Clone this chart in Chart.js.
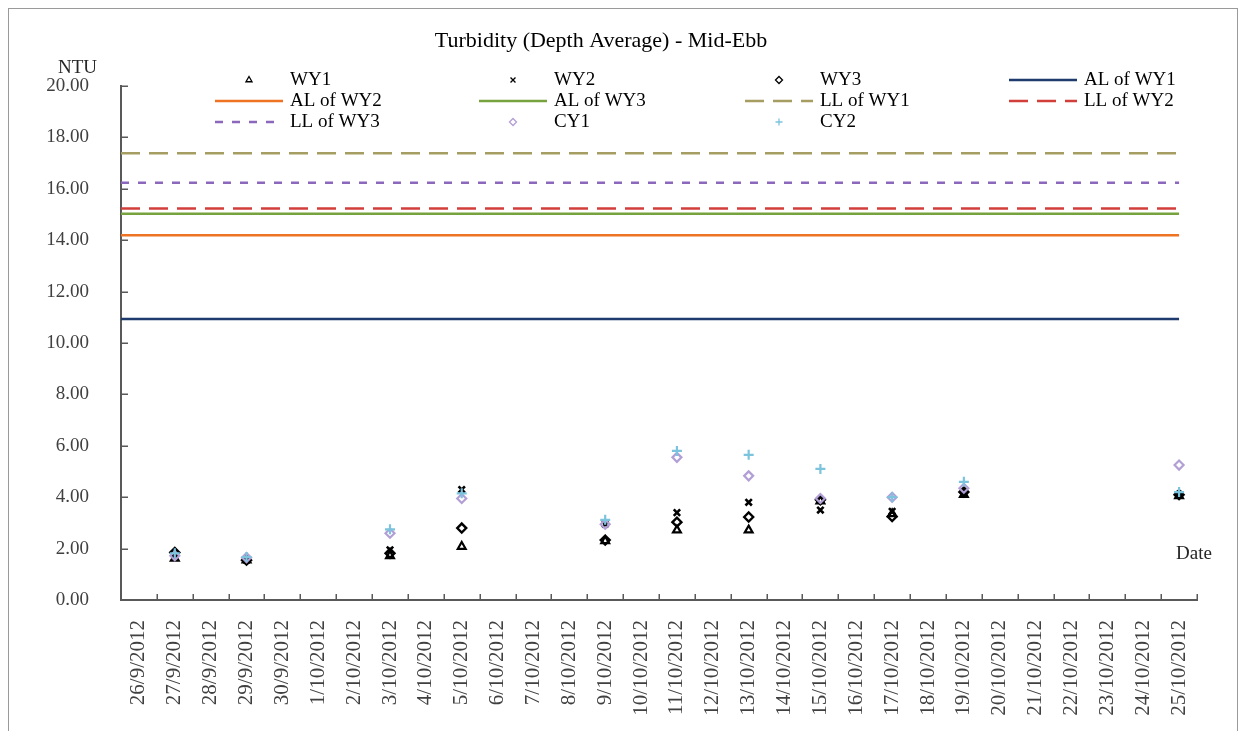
<!DOCTYPE html>
<html>
<head>
<meta charset="utf-8">
<script src="https://cdn.jsdelivr.net/npm/chart.js@4.4.1/dist/chart.umd.min.js"></script>
<style>
    html, body { margin: 0; padding: 0; background: #fff; }
    #wrap { position: relative; width: 1245px; height: 731px; }
</style>
</head>
<body>
<div id="wrap"><canvas id="turbidityChart"></canvas></div>
<script>
// Categories (one per day)
const categories = [
    '26/9/2012', '27/9/2012', '28/9/2012', '29/9/2012', '30/9/2012',
    '1/10/2012', '2/10/2012', '3/10/2012', '4/10/2012', '5/10/2012',
    '6/10/2012', '7/10/2012', '8/10/2012', '9/10/2012', '10/10/2012',
    '11/10/2012', '12/10/2012', '13/10/2012', '14/10/2012', '15/10/2012',
    '16/10/2012', '17/10/2012', '18/10/2012', '19/10/2012', '20/10/2012',
    '21/10/2012', '22/10/2012', '23/10/2012', '24/10/2012', '25/10/2012'
];

// Monitoring days
const sampleDates = [
    '27/9/2012', '29/9/2012', '3/10/2012', '5/10/2012', '9/10/2012', '11/10/2012',
    '13/10/2012', '15/10/2012', '17/10/2012', '19/10/2012', '25/10/2012'
];

// Depth-averaged turbidity (NTU)
const wy1 = [1.62, 1.55, 1.72, 2.08, 2.30, 2.72, 2.72, 3.85, 3.35, 4.10, 4.05];
const wy2 = [1.78, 1.55, 1.95, 4.30, 2.95, 3.40, 3.80, 3.50, 3.45, 4.15, 4.10];
const wy3 = [1.85, 1.55, 1.82, 2.80, 2.33, 3.03, 3.23, 3.90, 3.25, 4.20, 4.10];
const cy1 = [1.72, 1.65, 2.60, 3.95, 2.95, 5.55, 4.83, 3.95, 4.00, 4.35, 5.25];
const cy2 = [1.82, 1.67, 2.75, 4.15, 3.12, 5.80, 5.65, 5.10, 4.00, 4.60, 4.20];

// Action / limit levels (NTU)
const alWY1 = 10.93;
const alWY2 = 14.19;
const alWY3 = 15.03;
const llWY1 = 17.38;
const llWY2 = 15.23;
const llWY3 = 16.24;

// Y axis ticks
const yTicks = [0, 2, 4, 6, 8, 10, 12, 14, 16, 18, 20];

document.addEventListener('DOMContentLoaded', function () {
    const serif = "'Liberation Serif', 'Times New Roman', serif";
    const axisColor = '#595959';
    const lastIndex = categories.length - 1;

    const points = (values) => sampleDates.map((d, i) => ({ x: d, y: values[i] }));
    // level lines run from the y axis (half a category before the first day) to the last day
    const level = (v) => [{ x: -0.5, y: v }, { x: lastIndex, y: v }];

    const scatter = (label, values, style, color, radius, width, order) => ({
        label: label,
        data: points(values),
        showLine: false,
        pointStyle: style,
        pointRadius: radius,
        pointHoverRadius: radius,
        pointBorderColor: color,
        pointBackgroundColor: 'rgba(0,0,0,0)',
        pointBorderWidth: width,
        borderColor: color,
        backgroundColor: color,
        order: order
    });

    const limit = (label, v, color, dash) => ({
        label: label,
        data: level(v),
        xAxisID: 'xLine',
        borderColor: color,
        backgroundColor: color,
        borderWidth: 2.5,
        borderDash: dash,
        pointRadius: 0,
        pointHoverRadius: 0,
        fill: false,
        order: 5
    });

    // Legend, title, captions and inward tick marks drawn on the canvas
    const decorations = {
        id: 'decorations',
        afterDraw(chart) {
            const ctx = chart.ctx;
            const xs = chart.scales.x;
            const ys = chart.scales.y;
            ctx.save();

            // outer frame
            ctx.strokeStyle = '#9a9a9a';
            ctx.lineWidth = 1;
            ctx.strokeRect(8.5, 8.5, 1229, 760);

            // inward tick marks
            ctx.strokeStyle = axisColor;
            ctx.lineWidth = 1.5;
            ctx.beginPath();
            for (let i = 0; i <= categories.length; i++) {
                const px = Math.round(xs.getPixelForValue(i - 0.5)) + 0.25;
                ctx.moveTo(px, xs.top);
                ctx.lineTo(px, xs.top - 6);
            }
            yTicks.forEach(v => {
                const py = Math.round(ys.getPixelForValue(v)) + 0.25;
                ctx.moveTo(ys.right, py);
                ctx.lineTo(ys.right + 7, py);
            });
            ctx.stroke();

            ctx.fillStyle = '#000';
            ctx.font = '22px ' + serif;
            ctx.textAlign = 'center';
            ctx.textBaseline = 'middle';
            ctx.fillText('Turbidity (Depth Average) - Mid-Ebb', 601, 41);

            ctx.font = '19px ' + serif;
            ctx.fillStyle = '#262626';
            ctx.textAlign = 'right';
            ctx.fillText('NTU', 97, 68);
            ctx.textAlign = 'left';
            ctx.fillText('Date', 1176, 554);

            // 4-column legend
            const colX = [215, 479, 745, 1009];
            const rowY = [80, 101, 122];
            const swatch = 68;
            chart.data.datasets.forEach((ds, i) => {
                const x = colX[i % 4];
                const y = rowY[Math.floor(i / 4)];
                if (ds.showLine === false) {
                    ctx.strokeStyle = ds.pointBorderColor;
                    ctx.fillStyle = 'rgba(0,0,0,0)';
                    ctx.lineWidth = 1.3;
                    ctx.setLineDash([]);
                    Chart.helpers.drawPoint(ctx, { pointStyle: ds.pointStyle, radius: 3.5, borderWidth: 1.3 }, x + swatch / 2, y);
                } else {
                    ctx.strokeStyle = ds.borderColor;
                    ctx.lineWidth = 2.5;
                    ctx.setLineDash(ds.borderDash || []);
                    ctx.beginPath();
                    ctx.moveTo(x, y);
                    ctx.lineTo(x + swatch, y);
                    ctx.stroke();
                    ctx.setLineDash([]);
                }
                ctx.fillStyle = '#000';
                ctx.font = '19px ' + serif;
                ctx.textAlign = 'left';
                ctx.textBaseline = 'middle';
                ctx.fillText(ds.label, x + swatch + 7, y);
            });
            ctx.restore();
        }
    };

    const ctx = document.getElementById('turbidityChart').getContext('2d');
    window.turbidityChart = new Chart(ctx, {
        type: 'line',
        data: {
            labels: categories,
            datasets: [
                scatter('WY1', wy1, 'triangle', '#000000', 4.5, 2.2, 2),
                scatter('WY2', wy2, 'crossRot', '#000000', 4.5, 2.6, 2),
                scatter('WY3', wy3, 'rectRot', '#000000', 4.5, 2.4, 2),
                limit('AL of WY1', alWY1, '#1f3b6e', []),
                limit('AL of WY2', alWY2, '#ee7322', []),
                limit('AL of WY3', alWY3, '#77a33f', []),
                limit('LL of WY1', llWY1, '#a69d62', [19, 9]),
                limit('LL of WY2', llWY2, '#d23f3b', [19, 9]),
                limit('LL of WY3', llWY3, '#8c68bd', [8, 9]),
                scatter('CY1', cy1, 'rectRot', '#b29fd6', 4.5, 2.2, 1),
                scatter('CY2', cy2, 'cross', '#7cc3dd', 5, 2.2, 0)
            ]
        },
        options: {
            responsive: true,
            maintainAspectRatio: false,
            animation: false,
            layout: { padding: { top: 86, right: 48, left: 0, bottom: 0 } },
            plugins: {
                legend: { display: false },
                title: { display: false },
                tooltip: { enabled: false }
            },
            scales: {
                x: {
                    type: 'category',
                    offset: true,
                    border: { color: axisColor, width: 2 },
                    grid: { display: false },
                    ticks: {
                        autoSkip: false,
                        minRotation: 90,
                        maxRotation: 90,
                        padding: 12,
                        color: '#404040',
                        font: { family: serif, size: 21 }
                    },
                    afterFit: (scale) => { scale.height = 131; }
                },
                xLine: {
                    type: 'linear',
                    display: false,
                    min: -0.5,
                    max: lastIndex + 0.5
                },
                y: {
                    min: yTicks[0],
                    max: yTicks[yTicks.length - 1],
                    border: { color: axisColor, width: 2 },
                    grid: { display: false },
                    afterBuildTicks: (scale) => { scale.ticks = yTicks.map(v => ({ value: v })); },
                    ticks: {
                        padding: 24,
                        color: '#404040',
                        font: { family: serif, size: 19 },
                        callback: (v) => Number(v).toFixed(2)
                    },
                    afterFit: (scale) => { scale.width = 121; }
                }
            }
        },
        plugins: [decorations]
    });
});
</script>
</body>
</html>
